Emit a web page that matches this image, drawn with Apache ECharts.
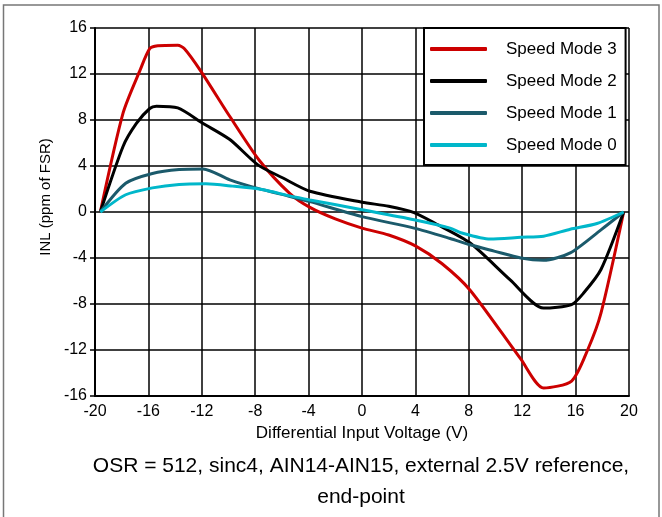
<!DOCTYPE html>
<html>
<head>
<meta charset="utf-8">
<script src="https://cdn.jsdelivr.net/npm/echarts@6/dist/echarts.min.js"></script>
<style>
html,body{margin:0;padding:0;background:#fff;}
#chart{width:662px;height:517px;}
</style>
</head>
<body>
<div id="chart"></div>
<script>
// Data (x: V, y: ppm of FSR)
const seriesNames = ["Speed Mode 3", "Speed Mode 2", "Speed Mode 1", "Speed Mode 0"];
const xTicks = [-20, -16, -12, -8, -4, 0, 4, 8, 12, 16, 20];
const yTicks = [-16, -12, -8, -4, 0, 4, 8, 12, 16];

const mode3 = [[-19.6,0],[-17.9,8.6],[-16.6,12.4],[-15.9,14.2],[-15.3,14.45],[-13.8,14.5],[-13.3,14.2],[-12.1,12.3],[-9.9,8.3],[-7.7,4.5],[-5.4,1.6],[-3.9,0.4],[-2,-0.6],[0,-1.4],[2,-2.0],[4,-2.95],[6,-4.5],[8.1,-6.8],[11.9,-12.8],[13.6,-15.3],[15.7,-14.7],[16.9,-12.0],[17.9,-8.8],[19.6,0]];
const mode2 = [[-19.6,0],[-17.9,5.7],[-16.9,7.7],[-15.9,9.0],[-15.4,9.2],[-13.8,9.05],[-11.9,7.7],[-9.9,6.3],[-7.8,4.1],[-6,3.0],[-3.9,1.8],[0,0.85],[2,0.5],[3.9,-0.05],[5.5,-1.0],[8.1,-2.7],[11.1,-5.9],[13.6,-8.35],[15.7,-8.05],[16.6,-7.05],[17.9,-5.0],[19.6,0]];
const mode1 = [[-19.6,0],[-17.7,2.5],[-15.7,3.35],[-13.7,3.7],[-11.9,3.75],[-9.9,2.8],[-7.8,2.05],[-5.4,1.35],[-3.9,0.9],[0,-0.4],[3.9,-1.4],[6.6,-2.3],[8.1,-2.85],[9.9,-3.4],[11.9,-4.0],[13.6,-4.2],[15.6,-3.55],[17.9,-1.55],[19.6,0]];
const mode0 = [[-19.6,0],[-17.7,1.5],[-15.7,2.1],[-13.7,2.4],[-11.7,2.45],[-9.7,2.25],[-7.5,1.95],[-5.4,1.4],[-3.9,1.05],[0,0.2],[3.9,-0.67],[6.6,-1.4],[7.4,-1.8],[9.6,-2.35],[11.9,-2.2],[13.6,-2.1],[15.6,-1.5],[17.6,-1.0],[19.6,0]];

const seriesData = [mode3, mode2, mode1, mode0];
const colors = ["#CC0000", "#000000", "#1B5A6B", "#00B7CA"];

const FONT = "Liberation Sans, Arial, sans-serif";
const chart = echarts.init(document.getElementById('chart'), null, {renderer: 'canvas'});

chart.setOption({
  animation: false,
  backgroundColor: '#fff',
  grid: {left: 95, right: 33, top: 28, bottom: 121, containLabel: false},
  xAxis: {
    type: 'value', min: xTicks[0], max: xTicks[xTicks.length-1], interval: 4,
    name: 'Differential Input Voltage (V)', nameLocation: 'middle', nameGap: 27,
    nameTextStyle: {color: '#000', fontSize: 17, fontFamily: FONT},
    axisLine: {show: true, onZero: false, lineStyle: {color: '#000', width: 2}},
    axisTick: {show: false},
    axisLabel: {color: '#000', fontSize: 16, fontFamily: FONT, margin: 8},
    splitLine: {show: true, lineStyle: {color: '#000', width: 1.5}}
  },
  yAxis: {
    type: 'value', min: yTicks[0], max: yTicks[yTicks.length-1], interval: 4,
    name: 'INL (ppm of FSR)', nameLocation: 'middle', nameGap: 38,
    nameTextStyle: {color: '#000', fontSize: 15, fontFamily: FONT, padding: [0,0,0,30]},
    axisLine: {show: true, onZero: false, lineStyle: {color: '#000', width: 2}},
    axisTick: {show: true, inside: false, length: 5, lineStyle: {color: '#000', width: 1.5}},
    axisLabel: {color: '#000', fontSize: 16, fontFamily: FONT, margin: 8},
    splitLine: {show: true, lineStyle: {color: '#000', width: 1.5}}
  },
  legend: {
    data: seriesNames,
    orient: 'vertical',
    left: 424, top: 28,
    padding: [12, 9, 11, 6],
    icon: 'roundRect',
    itemWidth: 57, itemHeight: 4, itemGap: 14,
    backgroundColor: '#fff',
    borderColor: '#000', borderWidth: 2,
    textStyle: {color: '#000', fontSize: 17, fontFamily: FONT, lineHeight: 18, padding: [0,0,0,14]}
  },
  graphic: [
    {type: 'rect', shape: {x: 3.5, y: 5, width: 655.5, height: 530}, style: {fill: 'none', stroke: '#777', lineWidth: 1.5}, silent: true, z: -1},
    {type: 'text', x: 361, y: 466, style: {text: 'OSR = 512, sinc4, AIN14-AIN15, external 2.5V reference,', fill: '#000', font: '21px ' + FONT, textAlign: 'center', textVerticalAlign: 'middle'}},
    {type: 'text', x: 361, y: 497, style: {text: 'end-point', fill: '#000', font: '21px ' + FONT, textAlign: 'center', textVerticalAlign: 'middle'}}
  ],
  series: seriesNames.map((n, i) => ({
    name: n, type: 'line', data: seriesData[i],
    smooth: 0.25, symbol: 'none', showSymbol: false,
    lineStyle: {color: colors[i], width: 3},
    itemStyle: {color: colors[i]},
    z: 2 + i
  }))
});
</script>
</body>
</html>
